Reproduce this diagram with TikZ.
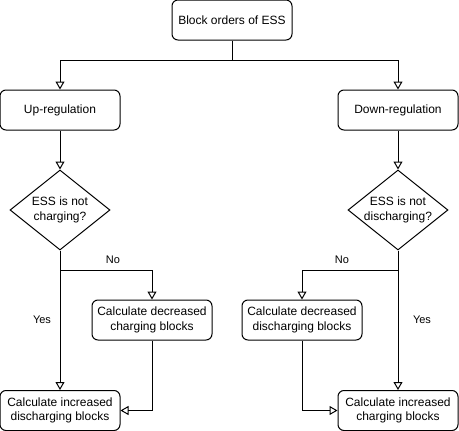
\documentclass[tikz,border=0pt]{standalone}
\usepackage{fontspec}
\setmainfont{Liberation Sans}
\usetikzlibrary{arrows.meta,shapes.geometric}
\begin{document}
\begin{tikzpicture}[x=1pt,y=-1pt,
  box/.style={draw, line width=1pt, rounded corners=6pt, minimum width=120pt, minimum height=40pt, inner sep=0pt, align=center, font=\fontsize{12}{14.5}\selectfont},
  dia/.style={draw, line width=1pt, diamond, minimum width=100pt, minimum height=80pt, inner sep=0pt},
  diatext/.style={align=center, inner sep=0pt, font=\fontsize{12}{14.5}\selectfont},
  lbl/.style={inner sep=0pt, font=\fontsize{11}{13}\selectfont},
  conn/.style={line width=1pt, -{Triangle[open, length=8pt, width=9pt]}},
  plain/.style={line width=1pt}]
\useasboundingbox (0,0) rectangle (459,431);
\node[box] (top) at (232,20) {Block orders of ESS};
\node[box] (up) at (60,110) {Up-regulation};
\node[box] (down) at (398,110) {Down-regulation};
\node[dia] (d1) at (60,210) {};
\node[diatext] at (d1) {ESS is not\\charging?};
\node[dia] (d2) at (398,210) {};
\node[diatext] at (d2) {ESS is not\\discharging?};
\node[box] (dcb) at (152,320) {Calculate decreased\\charging blocks};
\node[box] (idb) at (60,410.5) {Calculate increased\\discharging blocks};
\node[box] (ddb) at (302,320) {Calculate decreased\\discharging blocks};
\node[box] (icb) at (398,410.5) {Calculate increased\\charging blocks};
\coordinate (br) at (232,60);
\coordinate (b1) at (60,270);
\coordinate (b2) at (398,270);
\draw[plain] (top.south) -- (br);
\draw[conn] (br) -| (up.north);
\draw[conn] (br) -| (down.north);
\draw[conn] (up.south) -- (d1.north);
\draw[conn] (down.south) -- (d2.north);
\draw[conn] (d1.south) -- (idb.north);
\draw[conn] (b1) -| (dcb.north);
\draw[conn] (dcb.south) |- (idb.east);
\draw[conn] (d2.south) -- (icb.north);
\draw[conn] (b2) -| (ddb.north);
\draw[conn] (ddb.south) |- (icb.west);
\node[lbl] (no1) at (113,260) {No};
\node[lbl] (yes1) at (42,320) {Yes};
\node[lbl] (no2) at (342,260) {No};
\node[lbl] (yes2) at (422,320) {Yes};
\end{tikzpicture}
\end{document}
